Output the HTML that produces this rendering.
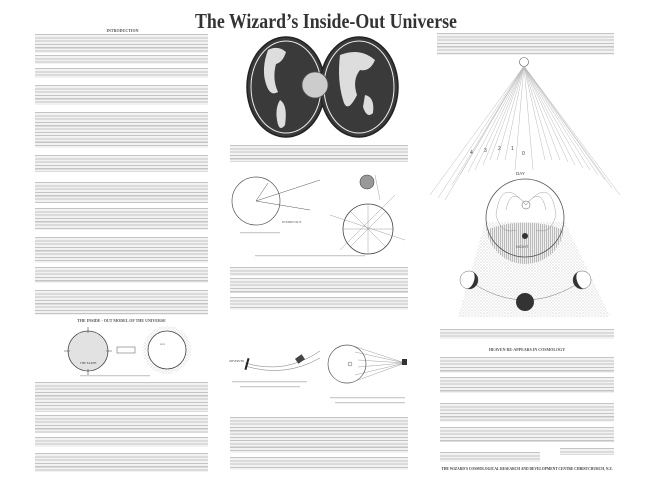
<!DOCTYPE html>
<html><head><meta charset="utf-8"><style>
body{margin:0;width:650px;height:478px;background:#fff;position:relative;overflow:hidden;font-family:"Liberation Serif",serif;}
.t{position:absolute;background:repeating-linear-gradient(to bottom,#c4c4c4 0,#c4c4c4 1.1px,#f2f2f2 1.1px,#f2f2f2 3.3px);}
.h{position:absolute;font-size:4px;color:#555;text-align:center;font-weight:bold;white-space:nowrap;}
svg{position:absolute;left:0;top:0;}
</style></head><body>
<div style="position:absolute;left:195px;top:9px;font-size:21px;font-weight:bold;color:#333;white-space:nowrap;transform-origin:0 0;transform:scale(0.85,1.0)">The Wizard’s Inside-Out Universe</div>
<div class="h" style="left:35px;top:28px;width:175px">INTRODUCTION</div>
<div class="t" style="left:35px;top:34px;width:173px;height:19px"></div>
<div class="t" style="left:35px;top:55px;width:173px;height:9px"></div>
<div class="t" style="left:35px;top:68px;width:173px;height:10px"></div>
<div class="t" style="left:35px;top:85px;width:173px;height:20px"></div>
<div class="t" style="left:35px;top:112px;width:173px;height:36px"></div>
<div class="t" style="left:35px;top:155px;width:173px;height:17px"></div>
<div class="t" style="left:35px;top:182px;width:173px;height:21px"></div>
<div class="t" style="left:35px;top:208px;width:173px;height:22px"></div>
<div class="t" style="left:35px;top:237px;width:173px;height:26px"></div>
<div class="t" style="left:35px;top:267px;width:173px;height:16px"></div>
<div class="t" style="left:35px;top:290px;width:173px;height:25px"></div>
<div class="h" style="left:35px;top:318px;width:173px">THE INSIDE - OUT MODEL OF THE UNIVERSE</div>
<div class="t" style="left:35px;top:382px;width:173px;height:30px"></div>
<div class="t" style="left:35px;top:415px;width:173px;height:18px"></div>
<div class="t" style="left:35px;top:437px;width:173px;height:10px"></div>
<div class="t" style="left:35px;top:453px;width:173px;height:19px"></div>
<div class="t" style="left:230px;top:145px;width:178px;height:17px"></div>
<div class="t" style="left:230px;top:267px;width:178px;height:9px"></div>
<div class="t" style="left:230px;top:278px;width:178px;height:15px"></div>
<div class="t" style="left:230px;top:297px;width:178px;height:13px"></div>
<div class="t" style="left:230px;top:417px;width:178px;height:36px"></div>
<div class="t" style="left:230px;top:457px;width:178px;height:13px"></div>
<div class="t" style="left:437px;top:33px;width:177px;height:22px"></div>
<div class="t" style="left:440px;top:329px;width:174px;height:10px"></div>
<div class="h" style="left:440px;top:347px;width:174px">HEAVEN RE-APPEARS IN COSMOLOGY</div>
<div class="t" style="left:440px;top:357px;width:174px;height:16px"></div>
<div class="t" style="left:440px;top:377px;width:174px;height:16px"></div>
<div class="t" style="left:440px;top:403px;width:174px;height:19px"></div>
<div class="t" style="left:440px;top:427px;width:174px;height:15px"></div>
<div class="t" style="left:560px;top:448px;width:54px;height:7px"></div>
<div class="t" style="left:440px;top:452px;width:100px;height:10px"></div>
<div class="h" style="left:440px;top:467px;width:174px;font-size:3.6px;color:#444">THE WIZARD'S COSMOLOGICAL RESEARCH AND DEVELOPMENT CENTRE CHRISTCHURCH, N.Z.</div>

<svg width="650" height="478" viewBox="0 0 650 478">
<defs>
<pattern id="st" width="3" height="3" patternUnits="userSpaceOnUse"><rect width="3" height="3" fill="#fff"/><circle cx="1" cy="1" r="0.5" fill="#aaa"/><circle cx="2.5" cy="2.3" r="0.4" fill="#ccc"/></pattern>
<pattern id="vl" width="2" height="2" patternUnits="userSpaceOnUse"><rect width="2" height="2" fill="#eee"/><rect width="0.6" height="2" fill="#999"/></pattern>
</defs>
<ellipse cx="286" cy="87" rx="39" ry="50" fill="#3a3a3a" stroke="#222" stroke-width="1.5"/>
<ellipse cx="359" cy="87" rx="39" ry="50" fill="#3a3a3a" stroke="#222" stroke-width="1.5"/>
<ellipse cx="286" cy="87" rx="35" ry="46" fill="none" stroke="#eee" stroke-width="1"/>
<ellipse cx="359" cy="87" rx="35" ry="46" fill="none" stroke="#eee" stroke-width="1"/>
<path d="M268 50 q10 -5 18 2 q-3 10 -10 12 q-4 15 2 28 q-8 5 -12 -8 q-5 -15 2 -34z" fill="#ddd"/>
<path d="M280 100 q8 5 5 25 q-6 8 -8 -5 q-2 -12 3 -20z" fill="#ddd"/>
<path d="M340 55 q20 -8 35 5 q-5 12 -15 10 q-8 10 -3 25 q-10 20 -14 5 q-6 -20 -3 -45z" fill="#ddd"/>
<path d="M365 95 q10 2 8 18 q-6 6 -10 -6z" fill="#ddd"/>
<circle cx="315" cy="85" r="13" fill="#ccc" stroke="#555" stroke-width="0.8"/>
<circle cx="256" cy="201" r="24" fill="none" stroke="#555" stroke-width="0.7"/>
<path d="M256 201 L320 180 M256 201 L310 210 M256 201 L268 183" stroke="#555" stroke-width="0.5"/>
<text x="282" y="223" font-size="3.5" fill="#555">INSIDE/OUT</text>
<rect x="240" y="232" width="40" height="1.3" fill="#ccc"/>
<circle cx="367" cy="182" r="7" fill="#999" stroke="#444" stroke-width="0.6"/>
<circle cx="368" cy="229" r="25" fill="none" stroke="#444" stroke-width="0.8"/>
<path d="M343 229 L393 229 M368 204 L368 254 M350 211 L386 247 M386 211 L350 247 M330 215 L405 240 M375 175 L380 200 M395 195 L340 250" stroke="#888" stroke-width="0.4"/>
<rect x="255" y="255" width="110" height="1.3" fill="#ccc"/>
<path d="M245 363 q40 12 75 -12" fill="none" stroke="#777" stroke-width="0.5"/>
<path d="M245 366 q40 12 75 -8" fill="none" stroke="#777" stroke-width="0.5"/>
<rect x="246" y="358" width="2" height="12" fill="#222" transform="rotate(15 247 364)"/>
<rect x="296" y="356" width="8" height="6" fill="#444" transform="rotate(-35 300 359)"/>
<text x="229" y="362" font-size="3" fill="#555">OBSERVER</text>
<rect x="232" y="381" width="75" height="1.3" fill="#ccc"/><rect x="240" y="386" width="60" height="1.3" fill="#ccc"/>
<circle cx="347" cy="364" r="19" fill="none" stroke="#555" stroke-width="0.7"/>
<circle cx="350" cy="364" r="2" fill="none" stroke="#555" stroke-width="0.5"/>
<g stroke="#888" stroke-width="0.4"><path d="M405 363 L350 345 M405 363 L355 352 M405 363 L358 360 M405 363 L358 367 M405 363 L355 375 M405 363 L350 383"/></g>
<rect x="402" y="359" width="5" height="6" fill="#333"/>
<rect x="330" y="397" width="75" height="1.3" fill="#ccc"/><rect x="335" y="402" width="70" height="1.3" fill="#ccc"/>
<circle cx="88" cy="351" r="20" fill="#e2e2e2" stroke="#444" stroke-width="0.8"/>
<path d="M88 327 v6 M88 369 v6 M64 351 h6 M106 351 h6" stroke="#444" stroke-width="0.6"/>
<text x="80" y="364" font-size="3" fill="#444">THE EARTH</text>
<rect x="117" y="347" width="18" height="6" fill="#fff" stroke="#555" stroke-width="0.5"/>
<circle cx="167" cy="350" r="24" fill="url(#st)"/>
<circle cx="167" cy="350" r="19" fill="#fff" stroke="#444" stroke-width="0.8"/>
<text x="160" y="345" font-size="2.5" fill="#444">SUN</text>
<rect x="80" y="375" width="70" height="1.3" fill="#ccc"/>
<circle cx="524" cy="62" r="4.5" fill="#fff" stroke="#555" stroke-width="0.6"/>
<g stroke="#bbb" stroke-width="0.5">
<path d="M524 66 L430 195 M524 66 L438 198 M524 66 L445 200 M524 66 L452 185 M524 66 L460 175 M524 66 L468 172 M524 66 L475 170 M524 66 L483 165 M524 66 L490 160 M524 66 L497 160 M524 66 L505 160 M524 66 L515 170 M524 66 L533 170 M524 66 L545 160 M524 66 L552 160 M524 66 L560 160 M524 66 L568 162 M524 66 L575 165 M524 66 L583 168 M524 66 L590 170 M524 66 L598 175 M524 66 L605 180 M524 66 L612 188 M524 66 L620 195"/>
</g>
<g font-size="5" fill="#444" font-family="Liberation Sans,sans-serif"><text x="470" y="154">4</text><text x="484" y="152">3</text><text x="498" y="150">2</text><text x="511" y="150">1</text><text x="522" y="155">0</text><text x="516" y="175" font-size="4.5">DAY</text></g>
<path d="M485 222 L565 222 L610 317 L458 317 Z" fill="url(#st)"/>
<path d="M486 225 A39 39 0 0 0 564 225 L564 230 Q525 215 486 230Z" fill="url(#vl)"/>
<path d="M490 228 Q525 245 562 228 L560 240 Q525 262 490 240Z" fill="url(#vl)"/>
<circle cx="525" cy="218" r="39" fill="none" stroke="#555" stroke-width="0.8"/>
<circle cx="526" cy="205" r="4" fill="#fff" stroke="#555" stroke-width="0.5"/>
<g fill="none" stroke="#888" stroke-width="0.4"><path d="M526 205 q-25 -30 -30 10 q5 20 20 15 M526 205 q25 -30 30 10 q-5 20 -20 15 M526 205 q-15 -20 -20 5 M526 205 q15 -20 20 5"/></g>
<circle cx="525" cy="236" r="3" fill="#333"/>
<text x="516" y="248" font-size="4" fill="#555" font-family="Liberation Sans,sans-serif">NIGHT</text>
<path d="M468 280 Q525 320 583 280" fill="none" stroke="#777" stroke-width="0.5"/>
<circle cx="469" cy="280" r="9" fill="#fff" stroke="#666" stroke-width="0.5"/><path d="M469 271 A9 9 0 0 1 469 289 A5 9 0 0 0 469 271Z" fill="#333" transform="rotate(20 469 280)"/>
<circle cx="525" cy="302" r="9" fill="#333"/>
<circle cx="582" cy="280" r="9" fill="#fff" stroke="#666" stroke-width="0.5"/><path d="M582 271 A9 9 0 0 0 582 289 A5 9 0 0 1 582 271Z" fill="#333" transform="rotate(-20 582 280)"/>
</svg>
</body></html>
